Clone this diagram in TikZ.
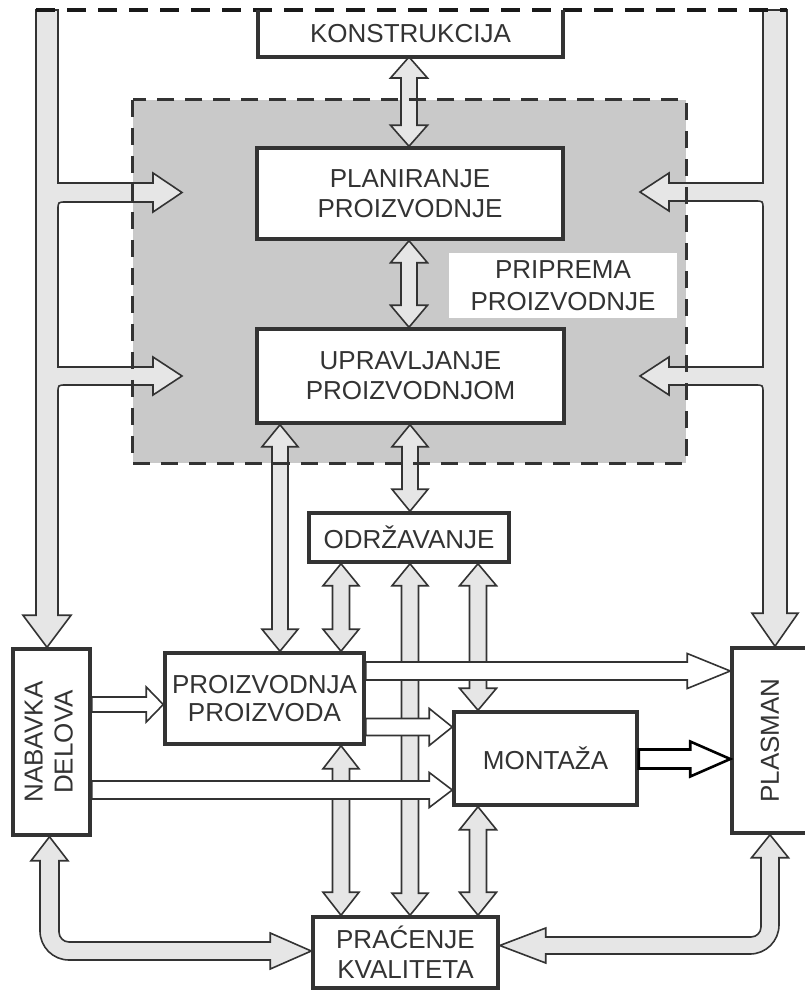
\documentclass[tikz,border=0pt]{standalone}
\usepackage{fontspec}
\setmainfont{Liberation Sans}
\usetikzlibrary{calc}
\definecolor{ink}{HTML}{333333}
\definecolor{afill}{HTML}{E6E6E6}
\definecolor{shade}{HTML}{C9C9C9}
\tikzset{
 txt/.style={font=\fontsize{26pt}{30pt}\selectfont, text=ink, align=center},
 box/.style={txt, draw=ink, line width=3.5pt, fill=white, inner sep=0pt},
 grayarrow/.style={draw=ink, fill=afill, line width=1.6pt},
 whitearrow/.style={draw=ink, fill=white, line width=1.6pt},
 boldarrow/.style={draw=black, fill=white, line width=2.6pt},
 innerdash/.style={draw=ink, line width=3pt, dash pattern=on 17pt off 11pt},
 outerdash/.style={draw=black!90, line width=3.5pt, dash pattern=on 19pt off 12pt},
}
% vertical double block arrow: x, top anchor, bottom anchor, shaft half, head half, head length
\newcommand\VD[6]{%
 \draw[grayarrow] let \p1=(#2), \p2=(#3) in
  (#1pt,\y1) -- (#1pt+#5pt,\y1-#6pt) -- (#1pt+#4pt,\y1-#6pt) -- (#1pt+#4pt,\y2+#6pt)
  -- (#1pt+#5pt,\y2+#6pt) -- (#1pt,\y2) -- (#1pt-#5pt,\y2+#6pt) -- (#1pt-#4pt,\y2+#6pt)
  -- (#1pt-#4pt,\y1-#6pt) -- (#1pt-#5pt,\y1-#6pt) -- cycle;}
% horizontal single block arrow: [style] y, from anchor, to anchor, shaft half, head half, head length
\newcommand\HS[7][whitearrow]{%
 \draw[#1] let \p1=(#3), \p2=(#4) in
  (\x1,-#2pt+#5pt) -- (\x2-#7pt,-#2pt+#5pt) -- (\x2-#7pt,-#2pt+#6pt) -- (\x2,-#2pt)
  -- (\x2-#7pt,-#2pt-#6pt) -- (\x2-#7pt,-#2pt-#5pt) -- (\x1,-#2pt-#5pt) -- cycle;}
\begin{document}
\begin{tikzpicture}[x=1pt,y=-1pt]
\useasboundingbox (0,0) rectangle (805,991);

% shaded preparation area
\node[fill=shade, inner sep=0pt, minimum width=553pt, minimum height=363pt] (area) at (409.5,281.5) {};
\node[txt, fill=white, inner sep=0pt, minimum width=228pt, minimum height=65pt] (priprema) at (563,285.5) {PRIPREMA\\[1.5pt]PROIZVODNJE};

% boxes
\node[txt, fill=white, inner sep=0pt, outer sep=0pt, minimum width=305pt, minimum height=47pt] (konstr) at (410.5,33.5) {KONSTRUKCIJA};
\node[box, minimum width=306pt, minimum height=91pt] (plan) at (410,193.5) {PLANIRANJE\\PROIZVODNJE};
\node[box, minimum width=307pt, minimum height=94pt] (uprav) at (410.5,376) {UPRAVLJANJE\\PROIZVODNJOM};
\node[box, minimum width=200pt, minimum height=49pt] (odrz) at (409,537.5) {ODRŽAVANJE};
\node[box, minimum width=199pt, minimum height=91pt] (proizv) at (264.5,698.5) {PROIZVODNJA\\[-2pt]PROIZVODA};
\node[box, minimum width=183pt, minimum height=93pt] (montaza) at (545.5,758.5) {MONTAŽA};
\node[box, minimum width=185pt, minimum height=71pt] (pracenje) at (405.5,952.5) {PRAĆENJE\\KVALITETA};
\node[box, minimum width=77pt, minimum height=186pt] (nabavka) at (51.5,742) {\rotatebox{90}{\begin{tabular}{@{}c@{}}NABAVKA\\DELOVA\end{tabular}}};
\node[box, minimum width=76pt, minimum height=185pt] (plasman) at (770,740.5) {\rotatebox{90}{PLASMAN}};

% side pipes with branches
\draw[grayarrow] let \p1=(nabavka.north) in
 (36,10) -- (58,10) -- (58,183) -- (153,183) -- (153,173) -- (182,192.5) -- (153,212) -- (153,202)
 -- (66,202) .. controls (58,202) .. (58,210) -- (58,367) -- (153,367) -- (153,357) -- (182,376)
 -- (153,395) -- (153,385) -- (66,385) .. controls (58,385) .. (58,393)
 -- (58pt,\y1+32pt) -- (71pt,\y1+32pt) -- (47pt,\y1) -- (23pt,\y1+32pt) -- (36pt,\y1+32pt) -- cycle;
\draw[grayarrow] let \p1=(plasman.north) in
 (787,10) -- (763,10) -- (763,183) -- (669,183) -- (669,173) -- (640,192) -- (669,211) -- (669,201)
 -- (755,201) .. controls (763,201) .. (763,209) -- (763,367) -- (669,367) -- (669,357) -- (640,376)
 -- (669,395) -- (669,385) -- (755,385) .. controls (763,385) .. (763,393)
 -- (763pt,\y1+33pt) -- (752pt,\y1+33pt) -- (775pt,\y1) -- (798pt,\y1+33pt) -- (787pt,\y1+33pt) -- cycle;

% vertical double arrows
\VD{409}{konstr.south}{plan.north}{8}{18.5}{21}
\VD{409}{plan.south}{uprav.north}{8}{18.5}{22}
\VD{410}{uprav.south}{odrz.north}{8}{18}{22}
\VD{280}{uprav.south}{proizv.north}{8}{18}{22}
\VD{341}{odrz.south}{proizv.north}{8.5}{18}{22}
\VD{410}{odrz.south}{pracenje.north}{8.5}{18}{22}
\VD{478}{odrz.south}{montaza.north}{8.5}{18.5}{22}
\VD{341}{proizv.south}{pracenje.north}{8.5}{18}{23}
\VD{478}{montaza.south}{pracenje.north}{8.5}{18.5}{23}

% curved double arrows at the bottom
\draw[grayarrow] let \p1=(nabavka.south), \p2=(pracenje.west) in
 (49.5pt,\y1) -- (68pt,\y1-24pt) -- (59pt,\y1-24pt) -- (59,932) .. controls (59,937.5) and (63.5,942) .. (69,942)
 -- (\x2-41pt,-942pt) -- (\x2-41pt,-933pt) -- (\x2,-951pt) -- (\x2-41pt,-969pt) -- (\x2-41pt,-960pt)
 -- (69,960) .. controls (53,960) and (40,947) .. (40,931) -- (40pt,\y1-24pt) -- (31pt,\y1-24pt) -- cycle;
\draw[grayarrow] let \p1=(plasman.south), \p2=(pracenje.east) in
 (770pt,\y1) -- (788.5pt,\y1-23pt) -- (779pt,\y1-23pt) -- (779,925) .. controls (779,941) and (766,954) .. (750,954)
 -- (\x2+46pt,-954pt) -- (\x2+46pt,-963pt) -- (\x2,-945.5pt) -- (\x2+46pt,-928pt) -- (\x2+46pt,-937pt)
 -- (751,937) .. controls (756.5,937) and (761,932.5) .. (761,927) -- (761pt,\y1-23pt) -- (751.5pt,\y1-23pt) -- cycle;

% horizontal flow arrows
\HS{704.5}{nabavka.east}{proizv.west}{7.5}{17.5}{17}
\HS{671}{proizv.east}{plasman.west}{9}{17.5}{43}
\HS{727}{proizv.east}{montaza.west}{8.5}{18.5}{23}
\HS{790}{nabavka.east}{montaza.west}{9}{17.5}{23}
\HS[boldarrow]{759}{montaza.east}{plasman.west}{9.5}{17.5}{40}

% dashed frames
\draw[innerdash] (area.north west) rectangle (area.south east);
\draw[outerdash] (36,10) -- (787,10);
\draw[draw=ink, line width=3.5pt] (konstr.north west) -- (konstr.south west) -- (konstr.south east) -- (konstr.north east);
\end{tikzpicture}
\end{document}
